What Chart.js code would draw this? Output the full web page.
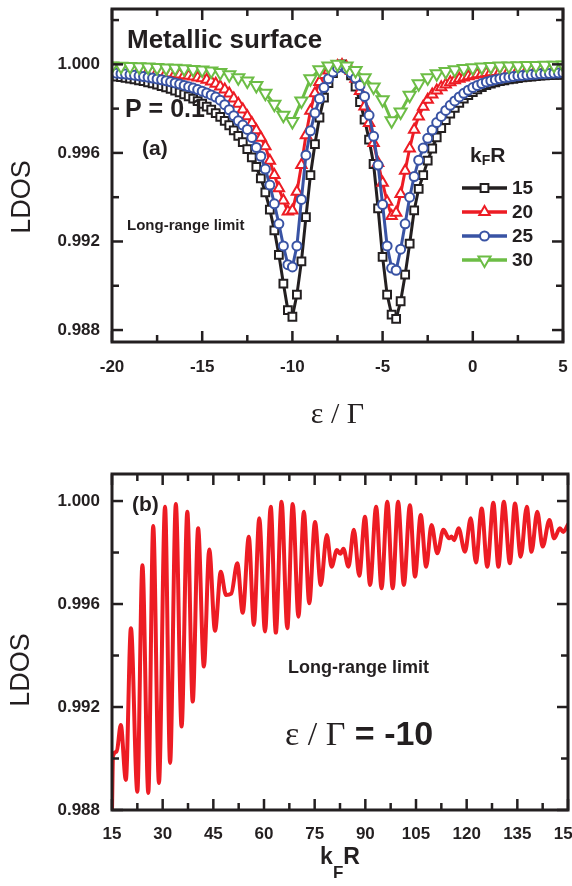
<!DOCTYPE html>
<html>
<head>
<meta charset="utf-8">
<title>LDOS – metallic surface</title>
<script src="https://cdn.jsdelivr.net/npm/chart.js@4.4.1/dist/chart.umd.min.js"></script>
<style>
  html, body { margin: 0; padding: 0; background: #fff; }
  #wrap { position: relative; width: 572px; height: 886px; overflow: hidden; }
  .panel { position: absolute; left: 0; width: 572px; }
  #panelA { top: 0; height: 430px; }
  #panelB { top: 440px; height: 446px; }
</style>
</head>
<body>
<div id="wrap">
  <div class="panel" id="panelA"><canvas id="chartA" width="572" height="430"></canvas></div>
  <div class="panel" id="panelB"><canvas id="chartB" width="572" height="446"></canvas></div>
</div>
<script>
// ---------- panel (a): LDOS vs eps/Gamma, four kF R values ----------
const energyFine = [
  -20, -19.75, -19.5, -19.25,
  -19, -18.75, -18.5, -18.25,
  -18, -17.75, -17.5, -17.25,
  -17, -16.75, -16.5, -16.25,
  -16, -15.75, -15.5, -15.25,
  -15, -14.75, -14.5, -14.25,
  -14, -13.75, -13.5, -13.25,
  -13, -12.75, -12.5, -12.25,
  -12, -11.75, -11.5, -11.25,
  -11, -10.75, -10.5, -10.25,
  -10, -9.75, -9.5, -9.25,
  -9, -8.75, -8.5, -8.25,
  -8, -7.75, -7.5, -7.25,
  -7, -6.75, -6.5, -6.25,
  -6, -5.75, -5.5, -5.25,
  -5, -4.75, -4.5, -4.25,
  -4, -3.75, -3.5, -3.25,
  -3, -2.75, -2.5, -2.25,
  -2, -1.75, -1.5, -1.25,
  -1, -0.75, -0.5, -0.25,
  0, 0.25, 0.5, 0.75,
  1, 1.25, 1.5, 1.75,
  2, 2.25, 2.5, 2.75,
  3, 3.25, 3.5, 3.75,
  4, 4.25, 4.5, 4.75,
  5
];
const energyCoarse = [
  -20, -19.5, -19, -18.5, -18, -17.5, -17, -16.5, -16, -15.5,
  -15, -14.5, -14, -13.5, -13, -12.5, -12, -11.5, -11, -10.5,
  -10, -9.5, -9, -8.5, -8, -7.5, -7, -6.5, -6, -5.5,
  -5, -4.5, -4, -3.5, -3, -2.5, -2, -1.5, -1, -0.5,
  0, 0.5, 1, 1.5, 2, 2.5, 3, 3.5, 4, 4.5, 5
];
const ldos15 = [
  0.99947, 0.99945, 0.99942, 0.99939,
  0.99936, 0.99932, 0.99928, 0.99924,
  0.99919, 0.99914, 0.99908, 0.99902,
  0.99896, 0.99889, 0.99881, 0.99873,
  0.99864, 0.99855, 0.99845, 0.99834,
  0.99822, 0.99809, 0.99795, 0.99780,
  0.99763, 0.99745, 0.99725, 0.99702,
  0.99677, 0.99649, 0.99617, 0.99580,
  0.99537, 0.99485, 0.99422, 0.99344,
  0.99250, 0.99140, 0.99010, 0.98890,
  0.98860, 0.98960, 0.99110, 0.99310,
  0.99500, 0.99640, 0.99760, 0.99850,
  0.99915, 0.99960, 0.99990, 1.00000,
  0.99985, 0.99950, 0.99900, 0.99830,
  0.99750, 0.99660, 0.99550, 0.99350,
  0.99130, 0.98960, 0.98870, 0.98850,
  0.98930, 0.99050, 0.99190, 0.99340,
  0.99438, 0.99500, 0.99565, 0.99620,
  0.99670, 0.99712, 0.99748, 0.99778,
  0.99804, 0.99826, 0.99845, 0.99861,
  0.99875, 0.99887, 0.99897, 0.99906,
  0.99913, 0.99919, 0.99924, 0.99928,
  0.99932, 0.99935, 0.99938, 0.99941,
  0.99943, 0.99945, 0.99947, 0.99949,
  0.99950, 0.99951, 0.99952, 0.99953,
  0.99954
];
const ldos20 = [
  0.99978, 0.99977, 0.99976, 0.99975,
  0.99974, 0.99973, 0.99972, 0.99970,
  0.99969, 0.99967, 0.99965, 0.99963,
  0.99961, 0.99959, 0.99957, 0.99954,
  0.99951, 0.99948, 0.99945, 0.99941,
  0.99937, 0.99930, 0.99922, 0.99912,
  0.99900, 0.99886, 0.99868, 0.99846,
  0.99822, 0.99796, 0.99766, 0.99735,
  0.99702, 0.99668, 0.99630, 0.99565,
  0.99500, 0.99440, 0.99385, 0.99335,
  0.99340, 0.99425, 0.99545, 0.99680,
  0.99790, 0.99870, 0.99920, 0.99952,
  0.99972, 0.99985, 0.99993, 0.99997,
  0.99988, 0.99970, 0.99935, 0.99880,
  0.99810, 0.99735, 0.99645, 0.99555,
  0.99465, 0.99380, 0.99315, 0.99330,
  0.99415, 0.99520, 0.99620, 0.99705,
  0.99765, 0.99808, 0.99840, 0.99864,
  0.99882, 0.99897, 0.99909, 0.99919,
  0.99928, 0.99935, 0.99941, 0.99946,
  0.99951, 0.99955, 0.99958, 0.99961,
  0.99964, 0.99966, 0.99968, 0.99970,
  0.99972, 0.99973, 0.99974, 0.99975,
  0.99976, 0.99977, 0.99978, 0.99979,
  0.99980, 0.99980, 0.99981, 0.99981,
  0.99982
];
const ldos25 = [
  0.99962, 0.99960, 0.99958, 0.99956,
  0.99954, 0.99951, 0.99948, 0.99945,
  0.99942, 0.99938, 0.99934, 0.99930,
  0.99926, 0.99921, 0.99916, 0.99911,
  0.99905, 0.99899, 0.99893, 0.99886,
  0.99879, 0.99871, 0.99862, 0.99852,
  0.99838, 0.99818, 0.99795, 0.99768,
  0.99745, 0.99726, 0.99706, 0.99670,
  0.99625, 0.99585, 0.99527, 0.99455,
  0.99370, 0.99280, 0.99180, 0.99095,
  0.99085, 0.99180, 0.99390, 0.99590,
  0.99700, 0.99780, 0.99845, 0.99895,
  0.99935, 0.99965, 0.99985, 0.99995,
  0.99980, 0.99962, 0.99938, 0.99905,
  0.99855, 0.99770, 0.99675, 0.99545,
  0.99367, 0.99180, 0.99080, 0.99070,
  0.99165, 0.99280, 0.99400, 0.99493,
  0.99567, 0.99622, 0.99666, 0.99703,
  0.99737, 0.99765, 0.99792, 0.99815,
  0.99835, 0.99853, 0.99869, 0.99883,
  0.99895, 0.99905, 0.99913, 0.99920,
  0.99926, 0.99931, 0.99935, 0.99939,
  0.99942, 0.99945, 0.99948, 0.99950,
  0.99952, 0.99954, 0.99955, 0.99957,
  0.99958, 0.99959, 0.99960, 0.99961,
  0.99962
];
const ldos30 = [
  0.99992, 0.99991, 0.99990, 0.99989, 0.99988, 0.99986, 0.99984, 0.99982, 0.99980, 0.99977,
  0.99974, 0.99970, 0.99963, 0.99953, 0.99940, 0.99925, 0.99905, 0.99870, 0.99820, 0.99770,
  0.99742, 0.99835, 0.99935, 0.99976, 0.99993, 1.00000, 0.99993, 0.99972, 0.99940, 0.99898,
  0.99840, 0.99745, 0.99785, 0.99860, 0.99912, 0.99940, 0.99957, 0.99968, 0.99976, 0.99981,
  0.99985, 0.99988, 0.99990, 0.99992, 0.99993, 0.99994, 0.99995, 0.99995, 0.99996, 0.99996,
  0.99997
];
const xTicksA = [-20, -15, -10, -5, 0, 5];
const xMinorA = [-17.5, -12.5, -7.5, -2.5, 2.5];
const yTicksA = [0.988, 0.992, 0.996, 1.000];
const yMinorA = [0.990, 0.994, 0.998, 1.002];

// ---------- panel (b): LDOS vs kF R at eps/Gamma = -10 ----------
const kfr = [
  15, 15.3, 16.4, 17.6, 19.1, 20.6, 22.5, 24.0, 25.75, 27.2,
  28.9, 30.7, 32.2, 33.9, 35.6, 37.3, 38.9, 40.5, 42.2, 43.8,
  45.5, 47.2, 48.75, 50.3, 52.1, 53.7, 55.5, 57.0, 58.6, 60.3,
  62.0, 63.5, 65.2, 66.9, 68.5, 70.2, 71.8, 73.4, 75.1, 76.8,
  78.6, 80.0, 81.6, 82.6, 83.5, 85.0, 86.6, 88.2, 89.9, 91.4,
  93.2, 94.8, 96.5, 98.1, 99.7, 101.4, 103.2, 104.7, 106.4, 108.0,
  109.6, 111.3, 113.1, 114.8, 115.5, 116.3, 117.6, 119.5, 121.2, 122.75,
  124.45, 126.1, 127.9, 129.4, 131.0, 132.8, 134.3, 136.0, 137.8, 139.2,
  140.9, 142.5, 144.5, 145.9, 147.6, 148.6, 150
];
const ldosB = [
  0.98800, 0.99010, 0.99027, 0.99130, 0.98917, 0.99506, 0.98871, 0.99751, 0.98866, 0.99903,
  0.98905, 0.99978, 0.98983, 0.99988, 0.99124, 0.99958, 0.99221, 0.99894, 0.99357, 0.99812,
  0.99496, 0.99725, 0.99635, 0.99640, 0.99758, 0.99566, 0.99861, 0.99519, 0.99933, 0.99493,
  0.99978, 0.99489, 0.99997, 0.99506, 0.99988, 0.99551, 0.99958, 0.99603, 0.99919, 0.99674,
  0.99868, 0.99745, 0.99810, 0.99795, 0.99815, 0.99745, 0.99888, 0.99710, 0.99939, 0.99674,
  0.99978, 0.99661, 0.99997, 0.99661, 0.99997, 0.99674, 0.99984, 0.99706, 0.99946, 0.99745,
  0.99907, 0.99797, 0.99888, 0.99855, 0.99862, 0.99848, 0.99894, 0.99803, 0.99933, 0.99761,
  0.99971, 0.99745, 0.99993, 0.99745, 0.99997, 0.99758, 0.99990, 0.99784, 0.99978, 0.99803,
  0.99958, 0.99823, 0.99926, 0.99855, 0.99894, 0.99880, 0.99909
];
const xTicksB = [15, 30, 45, 60, 75, 90, 105, 120, 135, 150];
const xMinorB = [22.5, 37.5, 52.5, 67.5, 82.5, 97.5, 112.5, 127.5, 142.5];
const yTicksB = [0.988, 0.992, 0.996, 1.000];
const yMinorB = [0.990, 0.994, 0.998];

// ---------- shared styling ----------
const INK = '#231f20';
const SANS = '"Liberation Sans", Arial, sans-serif';
const SERIF = '"Liberation Serif", "Times New Roman", serif';

Chart.defaults.font.family = SANS;
Chart.defaults.color = INK;

function pairs(xs, ys) {
  return xs.map((x, i) => ({ x: x, y: ys[i] }));
}

function line(ctx, x1, y1, x2, y2) {
  ctx.beginPath();
  ctx.moveTo(x1, y1);
  ctx.lineTo(x2, y2);
  ctx.stroke();
}

// text made of runs (for subscripts and mixed fonts)
function drawRuns(ctx, area, n) {
  ctx.save();
  const x0 = n.x === 'mid' ? (area.left + area.right) / 2 : n.x;
  ctx.translate(x0, n.y);
  if (n.rotate) ctx.rotate(n.rotate);
  ctx.fillStyle = INK;
  ctx.textAlign = 'left';
  ctx.textBaseline = n.baseline || 'alphabetic';
  const widths = n.runs.map(r => { ctx.font = r.font; return ctx.measureText(r.t).width; });
  const total = widths.reduce((a, b) => a + b, 0);
  let cx = n.align === 'center' ? -total / 2 : 0;
  n.runs.forEach((r, i) => {
    ctx.font = r.font;
    ctx.fillText(r.t, cx, r.dy || 0);
    cx += widths[i];
  });
  ctx.restore();
}

function drawLegend(chart, lg) {
  const ctx = chart.ctx;
  chart.data.datasets.forEach((ds, i) => {
    const yRow = lg.top + i * lg.gap;
    ctx.strokeStyle = ds.borderColor;
    ctx.lineWidth = ds.borderWidth + 0.5;
    line(ctx, lg.left, yRow, lg.left + lg.len, yRow);
    ctx.fillStyle = '#fff';
    ctx.lineWidth = ds.pointBorderWidth;
    Chart.helpers.drawPoint(ctx, {
      pointStyle: ds.pointStyle, radius: ds.pointRadius,
      rotation: ds.pointRotation || 0, borderWidth: ds.pointBorderWidth
    }, lg.left + lg.len / 2, yRow);
    ctx.fillStyle = INK;
    ctx.font = lg.font;
    ctx.textAlign = 'left';
    ctx.textBaseline = 'middle';
    ctx.fillText(ds.label, lg.left + lg.len + 5, yRow + 1);
  });
}

// frame, inward ticks on all four sides, annotations
function makeDecor(cfg) {
  return {
    id: 'panelDecor',
    afterDraw(chart) {
      const ctx = chart.ctx, a = chart.chartArea;
      const xs = chart.scales.x, ys = chart.scales.y;
      ctx.save();
      ctx.strokeStyle = INK;
      ctx.lineWidth = 2.5;
      const tickX = (v, len) => {
        const p = xs.getPixelForValue(v);
        line(ctx, p, a.bottom, p, a.bottom - len);
        line(ctx, p, a.top, p, a.top + len);
      };
      const tickY = (v, len) => {
        const p = ys.getPixelForValue(v);
        line(ctx, a.left, p, a.left + len, p);
        line(ctx, a.right, p, a.right - len, p);
      };
      cfg.xMajor.forEach(v => tickX(v, 11));
      cfg.xMinor.forEach(v => tickX(v, 7));
      cfg.yMajor.forEach(v => tickY(v, 11));
      cfg.yMinor.forEach(v => tickY(v, 7));
      ctx.lineWidth = 3;
      ctx.strokeRect(a.left, a.top, a.right - a.left, a.bottom - a.top);
      cfg.notes.forEach(n => drawRuns(ctx, a, n));
      if (cfg.legend) drawLegend(chart, cfg.legend);
      ctx.restore();
    }
  };
}

function axisX(min, max, ticks, pad, height) {
  return {
    type: 'linear', min: min, max: max,
    afterBuildTicks: s => { s.ticks = ticks.map(v => ({ value: v })); },
    afterFit: s => { s.height = height; s.paddingLeft = 0; s.paddingRight = 0; },
    grid: { display: false, drawTicks: false },
    border: { display: false },
    ticks: { font: { size: 17, weight: 'bold' }, padding: pad, maxRotation: 0, autoSkip: false,
             callback: v => String(v) }
  };
}

function axisY(min, max, ticks) {
  return {
    min: min, max: max,
    afterBuildTicks: s => { s.ticks = ticks.map(v => ({ value: v })); },
    afterFit: s => { s.width = 112; s.paddingTop = 0; s.paddingBottom = 0; },
    grid: { display: false, drawTicks: false },
    border: { display: false },
    ticks: { font: { size: 17, weight: 'bold' }, padding: 12, autoSkip: false,
             callback: v => v.toFixed(3) }
  };
}

// ---------- chart (a) ----------
const seriesA = [
  { label: '15', xs: energyFine, ys: ldos15, color: INK, style: 'rect', r: 5.5, rot: 0 },
  { label: '20', xs: energyFine, ys: ldos20, color: '#ed1c24', style: 'triangle', r: 6, rot: 0 },
  { label: '25', xs: energyFine, ys: ldos25, color: '#3953a4', style: 'circle', r: 4.5, rot: 0 },
  { label: '30', xs: energyCoarse, ys: ldos30, color: '#6cbd45', style: 'triangle', r: 7, rot: 180 }
];

new Chart(document.getElementById('chartA'), {
  type: 'line',
  data: {
    datasets: seriesA.map((s, i) => ({
      label: s.label,
      data: pairs(s.xs, s.ys),
      borderColor: s.color,
      borderWidth: 3,
      pointStyle: s.style,
      pointRadius: s.r,
      pointRotation: s.rot,
      pointBorderColor: s.color,
      pointBackgroundColor: '#fff',
      pointBorderWidth: 2,
      tension: 0,
      order: seriesA.length - 1 - i
    }))
  },
  options: {
    responsive: false,
    animation: false,
    devicePixelRatio: 1,
    layout: { padding: { left: 0, right: 4, top: 5, bottom: 0 } },
    plugins: { legend: { display: false }, tooltip: { enabled: false } },
    scales: {
      x: axisX(-20, 5, xTicksA, 15, 88),
      y: axisY(0.98746, 1.0025, yTicksA)
    }
  },
  plugins: [makeDecor({
    xMajor: xTicksA, xMinor: xMinorA, yMajor: yTicksA, yMinor: yMinorA,
    legend: { left: 462, top: 188, gap: 24, len: 45, font: 'bold 19px ' + SANS },
    notes: [
      { x: 127, y: 48, runs: [{ t: 'Metallic surface', font: 'bold 26px ' + SANS }] },
      { x: 125, y: 117, runs: [{ t: 'P = 0.1', font: 'bold 25px ' + SANS }] },
      { x: 142, y: 155, runs: [{ t: '(a)', font: 'bold 21px ' + SANS }] },
      { x: 127, y: 230, runs: [{ t: 'Long-range limit', font: 'bold 15px ' + SANS }] },
      { x: 470, y: 162, runs: [
        { t: 'k', font: 'bold 21px ' + SANS },
        { t: 'F', font: 'bold 14px ' + SANS, dy: 3 },
        { t: 'R', font: 'bold 21px ' + SANS }] },
      { x: 'mid', y: 423, align: 'center', runs: [{ t: 'ε / Γ', font: '30px ' + SERIF }] },
      { x: 23, y: 197, rotate: -Math.PI / 2, align: 'center', baseline: 'middle',
        runs: [{ t: 'LDOS', font: '27px ' + SANS }] }
    ]
  })]
});

// ---------- chart (b) ----------
new Chart(document.getElementById('chartB'), {
  type: 'line',
  data: {
    datasets: [{
      label: 'ε/Γ = -10',
      data: pairs(kfr, ldosB),
      borderColor: '#ed1c24',
      borderWidth: 4,
      borderJoinStyle: 'round',
      borderCapStyle: 'round',
      pointRadius: 0,
      cubicInterpolationMode: 'monotone'
    }]
  },
  options: {
    responsive: false,
    animation: false,
    devicePixelRatio: 1,
    layout: { padding: { left: 0, right: 4, top: 34, bottom: 0 } },
    plugins: { legend: { display: false }, tooltip: { enabled: false } },
    scales: {
      x: axisX(15, 150, xTicksB, 14, 76),
      y: axisY(0.988, 1.00105, yTicksB)
    }
  },
  plugins: [makeDecor({
    xMajor: xTicksB, xMinor: xMinorB, yMajor: yTicksB, yMinor: yMinorB,
    notes: [
      { x: 132, y: 71, runs: [{ t: '(b)', font: 'bold 21px ' + SANS }] },
      { x: 288, y: 233, runs: [{ t: 'Long-range limit', font: 'bold 18px ' + SANS }] },
      { x: 285, y: 305, runs: [
        { t: 'ε / Γ', font: '34px ' + SERIF },
        { t: ' = -10', font: 'bold 34px ' + SANS }] },
      { x: 'mid', y: 424, align: 'center', runs: [
        { t: 'k', font: 'bold 23px ' + SANS },
        { t: 'F', font: 'bold 17px ' + SANS, dy: 14 },
        { t: 'R', font: 'bold 23px ' + SANS }] },
      { x: 22, y: 230, rotate: -Math.PI / 2, align: 'center', baseline: 'middle',
        runs: [{ t: 'LDOS', font: '27px ' + SANS }] }
    ]
  })]
});
</script>
</body>
</html>
